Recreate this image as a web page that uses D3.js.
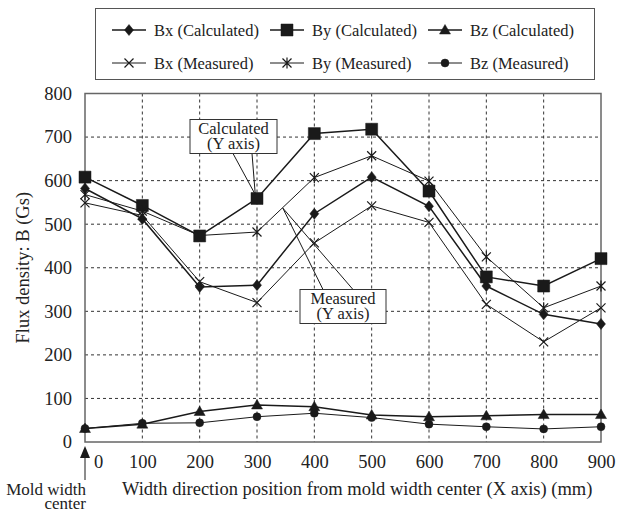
<!DOCTYPE html>
<html>
<head>
<meta charset="utf-8">
<script src="https://cdn.jsdelivr.net/npm/d3@7"></script>
<style>
  body { margin: 0; background: #fff; }
</style>
</head>
<body>
<div id="chart"></div>
<script>
// data
var positions = [0, 100, 200, 300, 400, 500, 600, 700, 800, 900];
var bxCalc = [582, 512, 356, 360, 524, 608, 541, 358, 293, 271];
var byCalc = [608, 543, 473, 559, 708, 718, 576, 379, 358, 421];
var bzCalc = [31, 41, 70, 85, 81, 62, 58, 60, 63, 63];
var bxMeas = [549, 520, 368, 320, 457, 542, 504, 316, 230, 308];
var byMeas = [568, 530, 474, 482, 607, 657, 599, 425, 308, 358];
var bzMeas = [31, 43, 44, 58, 66, 56, 41, 35, 30, 35];
var yTicks = [0, 100, 200, 300, 400, 500, 600, 700, 800];

var series = [
  {name: "Bx (Calculated)", values: bxCalc, sym: "diamond", calc: true},
  {name: "By (Calculated)", values: byCalc, sym: "square", calc: true},
  {name: "Bz (Calculated)", values: bzCalc, sym: "triangle", calc: true},
  {name: "Bx (Measured)", values: bxMeas, sym: "times", calc: false},
  {name: "By (Measured)", values: byMeas, sym: "asterisk", calc: false},
  {name: "Bz (Measured)", values: bzMeas, sym: "circle", calc: false}
];

var W = 627, H = 511;
var plot = {left: 85, right: 601, top: 93.5, bottom: 442};
var FONT = "Liberation Serif";
var INK = "#222";

const svg = d3.select("#chart").append("svg")
  .attr("width", W).attr("height", H);

var x = d3.scaleLinear().domain([0, 900]).range([plot.left, plot.right]);
var y = d3.scaleLinear().domain([0, 800]).range([plot.bottom, plot.top]);

// marker shapes
function symbolPath(type) {
  switch (type) {
    case "diamond": return "M0,-5.5L4.5,0L0,5.5L-4.5,0Z";
    case "square": return "M-6,-6H6V6H-6Z";
    case "triangle": return "M0,-5.5L5.5,4L-5.5,4Z";
    case "times": return "M-4.5,-4.5L4.5,4.5M-4.5,4.5L4.5,-4.5";
    case "asterisk": return "M-4.5,-4.5L4.5,4.5M-4.5,4.5L4.5,-4.5M0,-5.5V5.5";
    case "circle": return d3.symbol(d3.symbolCircle, 50)();
  }
}
function drawMarker(g, type, cx, cy) {
  var open = (type == "times" || type == "asterisk");
  g.append("path")
    .attr("d", symbolPath(type))
    .attr("transform", `translate(${cx},${cy})`)
    .attr("fill", open ? "none" : "#1a1a1a")
    .attr("stroke", "#1a1a1a")
    .attr("stroke-width", open ? 1.2 : 0.5);
}

// grid lines
svg.append("g").selectAll("line")
  .data(positions.slice(1, -1))
  .join("line")
    .attr("x1", d => x(d)).attr("x2", d => x(d))
    .attr("y1", plot.top).attr("y2", plot.bottom)
    .attr("stroke", "#333").attr("stroke-width", 1)
    .attr("stroke-dasharray", "3,3");
svg.append("g").selectAll("line")
  .data(yTicks.slice(1, -1))
  .join("line")
    .attr("x1", plot.left).attr("x2", plot.right)
    .attr("y1", d => y(d)).attr("y2", d => y(d))
    .attr("stroke", "#333").attr("stroke-width", 1)
    .attr("stroke-dasharray", "3,3");

// frame
svg.append("rect")
  .attr("x", plot.left).attr("y", plot.top)
  .attr("width", plot.right - plot.left).attr("height", plot.bottom - plot.top)
  .attr("fill", "none").attr("stroke", "#666").attr("stroke-width", 1.5);

// axes (labels only)
var xAxis = d3.axisBottom(x).tickValues(positions).tickSize(0).tickPadding(13);
var gx = svg.append("g").attr("transform", `translate(0,${plot.bottom})`).call(xAxis);
var yAxis = d3.axisLeft(y).tickValues(yTicks).tickSize(0).tickPadding(13);
var gy = svg.append("g").attr("transform", `translate(${plot.left},0)`).call(yAxis);
[gx, gy].forEach(function(g) {
  g.select(".domain").remove();
  g.selectAll("text").attr("fill", INK)
    .attr("font-family", FONT).attr("font-size", 18.5);
});
// the 0 label sits right of the arrow
gx.selectAll(".tick").filter(d => d == 0).select("text").attr("x", 13);

// lines and markers
var line = d3.line()
  .x((d, i) => x(positions[i]))
  .y(d => y(d));

series.forEach(function(s) {
  svg.append("path")
    .datum(s.values)
    .attr("d", line)
    .attr("fill", "none")
    .attr("stroke", "#1a1a1a")
    .attr("stroke-width", s.calc ? 1.5 : 1);
});
series.forEach(function(s) {
  var g = svg.append("g");
  s.values.forEach(function(v, i) { drawMarker(g, s.sym, x(positions[i]), y(v)); });
});

// annotation callouts
function callout(lines, bx, by, bw, bh, from, to) {
  var g = svg.append("g");
  to.forEach(function(p, i) {
    g.append("line")
      .attr("x1", from[i][0]).attr("y1", from[i][1])
      .attr("x2", x(p[0])).attr("y2", y(p[1]))
      .attr("stroke", "#1a1a1a").attr("stroke-width", 1);
  });
  g.append("rect")
    .attr("x", bx).attr("y", by).attr("width", bw).attr("height", bh)
    .attr("fill", "#fff").attr("stroke", "#333").attr("stroke-width", 1);
  lines.forEach(function(t, i) {
    g.append("text")
      .attr("x", bx + bw / 2).attr("y", by + 14 + i * 15.5)
      .attr("text-anchor", "middle")
      .attr("fill", INK)
      .attr("font-family", FONT).attr("font-size", 16.5)
      .text(t);
  });
}
callout(["Calculated", "(Y axis)"], 190, 119.5, 87, 34,
  [[233, 153.5], [252, 153.5]], [[297, 568], [297, 568]]);
callout(["Measured", "(Y axis)"], 300, 289.5, 86, 34,
  [[323, 289.5], [353, 289.5]], [[345, 537], [345, 537]]);

// mold width center arrow
svg.append("line")
  .attr("x1", plot.left).attr("x2", plot.left)
  .attr("y1", 456).attr("y2", 480)
  .attr("stroke", "#1a1a1a").attr("stroke-width", 1);
svg.append("path")
  .attr("d", `M${plot.left},446L${plot.left + 5},458L${plot.left - 5},458Z`)
  .attr("fill", "#1a1a1a");
svg.append("text")
  .attr("x", 86).attr("y", 495).attr("text-anchor", "end").attr("fill", INK)
  .attr("font-family", FONT).attr("font-size", 17).text("Mold width");
svg.append("text")
  .attr("x", 86).attr("y", 509).attr("text-anchor", "end").attr("fill", INK)
  .attr("font-family", FONT).attr("font-size", 17).text("center");

// axis titles
svg.append("text")
  .attr("x", 122).attr("y", 495).attr("fill", INK)
  .attr("font-family", FONT).attr("font-size", 18.5)
  .text("Width direction position from mold width center (X axis) (mm)");
svg.append("text")
  .attr("transform", `translate(29,${(plot.top + plot.bottom) / 2}) rotate(-90)`)
  .attr("text-anchor", "middle").attr("fill", INK)
  .attr("font-family", FONT).attr("font-size", 18.5)
  .text("Flux density: B (Gs)");

// legend
var legend = svg.append("g");
legend.append("rect")
  .attr("x", 95.5).attr("y", 8.5).attr("width", 499).attr("height", 71)
  .attr("fill", "#fff").attr("stroke", "#555").attr("stroke-width", 1);
var colX = [154, 312, 470], rowY = [30, 63];
series.forEach(function(s, i) {
  var tx = colX[i % 3], ty = rowY[Math.floor(i / 3)];
  legend.append("line")
    .attr("x1", tx - 42).attr("x2", tx - 8)
    .attr("y1", ty).attr("y2", ty)
    .attr("stroke", "#1a1a1a").attr("stroke-width", s.calc ? 1.5 : 1);
  drawMarker(legend, s.sym, tx - 25, ty);
  legend.append("text")
    .attr("x", tx).attr("y", ty + 5.5).attr("fill", INK)
    .attr("font-family", FONT).attr("font-size", 16.5)
    .text(s.name);
});
</script>
</body>
</html>
